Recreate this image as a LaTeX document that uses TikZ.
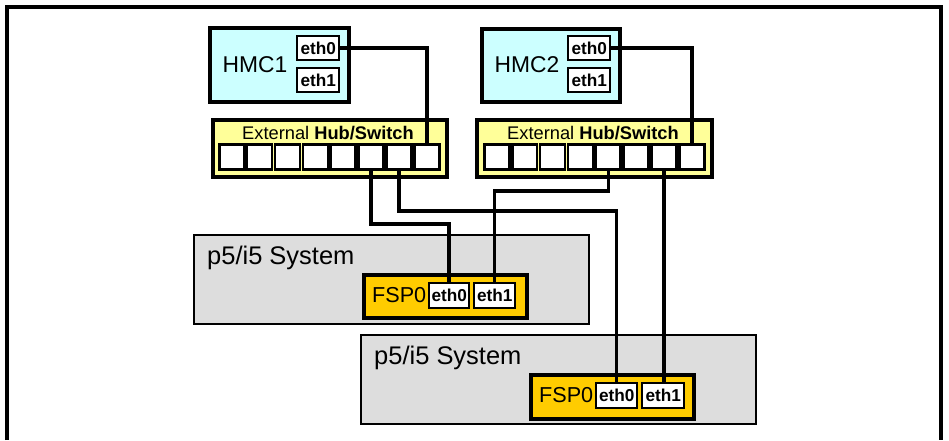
\documentclass[tikz,border=0pt]{standalone}
\usepackage{fontspec}
\setmainfont{Liberation Sans}
\usepackage{tikz}
\definecolor{hmccyan}{HTML}{CCFFFF}
\definecolor{hubyellow}{HTML}{FFFF99}
\definecolor{sysgray}{HTML}{DDDDDD}
\definecolor{fspgold}{HTML}{FFCC00}
\tikzset{
  box/.style={anchor=north west, draw=black, inner sep=0pt},
  hmcbox/.style={box, fill=hmccyan, line width=2.3pt},
  hubbox/.style={box, fill=hubyellow, line width=2.3pt},
  sysbox/.style={box, fill=sysgray, line width=1.4pt},
  fspbox/.style={box, fill=fspgold, line width=2.3pt},
  ethbox/.style={box, fill=white, line width=1.4pt,
    minimum width=0.84cm, minimum height=0.48cm,
    font=\bfseries\fontsize{9.8}{10}\selectfont},
  portbox/.style={box, fill=white, line width=1.5pt,
    minimum width=0.5cm, minimum height=0.5cm},
  cable/.style={line width=2pt}
}

\begin{document}
\begin{tikzpicture}[x=0.02cm, y=-0.02cm]
  \useasboundingbox (0,0) rectangle (949,440);
  % frame
  \draw[line width=1.8pt] (7,440) -- (7,7) -- (941,7) -- (941,440);

  % management consoles
  \node[hmcbox, minimum width=2.78cm, minimum height=1.48cm] (hmc1) at (208,26) {};
  \node[font=\fontsize{13}{14}\selectfont] (hmc1txt) at (255,65) {HMC1};
  \node[ethbox] (h1e0) at (296,35) {eth0};
  \node[ethbox] (h1e1) at (296,67) {eth1};

  \node[hmcbox, minimum width=2.76cm, minimum height=1.46cm] (hmc2) at (480,27) {};
  \node[font=\fontsize{13}{14}\selectfont] (hmc2txt) at (527,65) {HMC2};
  \node[ethbox] (h2e0) at (567,35) {eth0};
  \node[ethbox] (h2e1) at (567,67) {eth1};

  % hubs
  \node[hubbox, minimum width=4.68cm, minimum height=1.14cm] (sw1) at (211,118) {};
  \node[font=\fontsize{10.4}{12}\selectfont] (sw1txt) at (328,133) {External \textbf{Hub/Switch}};
  \foreach \i in {1,...,8}
    \node[portbox] (s1p\i) at ({218+27.86*(\i-1)},143) {};

  \node[hubbox, minimum width=4.7cm, minimum height=1.14cm] (sw2) at (475,118) {};
  \node[font=\fontsize{10.4}{12}\selectfont] (sw2txt) at (593,133) {External \textbf{Hub/Switch}};
  \foreach \i in {1,...,8}
    \node[portbox] (s2p\i) at ({483+27.86*(\i-1)},143) {};

  % systems
  \node[sysbox, minimum width=7.9cm, minimum height=1.78cm] (sys1) at (193,234) {};
  \node[anchor=west, font=\fontsize{14.5}{16}\selectfont] (sys1txt) at (201,258) {p5/i5 System};
  \node[fspbox, minimum width=3.26cm, minimum height=0.86cm] (fsp1) at (362,273) {};
  \node[anchor=west, font=\fontsize{12.3}{14}\selectfont] (fsp1txt) at (366,295) {FSP0};
  \node[ethbox, minimum width=0.8cm, minimum height=0.5cm] (f1e0) at (428,282) {eth0};
  \node[ethbox, minimum width=0.82cm, minimum height=0.5cm] (f1e1) at (473,282) {eth1};

  \node[sysbox, minimum width=7.9cm, minimum height=1.78cm] (sys2) at (360,334) {};
  \node[anchor=west, font=\fontsize{14.5}{16}\selectfont] (sys2txt) at (368,358) {p5/i5 System};
  \node[fspbox, minimum width=3.26cm, minimum height=0.88cm] (fsp2) at (529,373) {};
  \node[anchor=west, font=\fontsize{12.3}{14}\selectfont] (fsp2txt) at (533,395) {FSP0};
  \node[ethbox, minimum width=0.82cm, minimum height=0.5cm] (f2e0) at (595,382) {eth0};
  \node[ethbox, minimum width=0.84cm, minimum height=0.5cm] (f2e1) at (641,382) {eth1};

  % cabling
  \coordinate (bendA) at (0,224);
  \coordinate (bendB) at (0,211);
  \coordinate (bendC) at (0,191);
  \draw[cable] (h1e0.east) -| (s1p8.north);
  \draw[cable] (h2e0.east) -| (s2p8.north);
  \draw[cable] (s1p6.south) -- (s1p6.south |- bendA) -| (f1e0.north);
  \draw[cable] (s1p7.south) -- (s1p7.south |- bendB) -| (f2e0.north);
  \draw[cable] (s2p5.south) -- (s2p5.south |- bendC) -| (f1e1.north);
  \draw[cable] (s2p7.south) -- (s2p7.south |- f2e1.north);
\end{tikzpicture}
\end{document}
